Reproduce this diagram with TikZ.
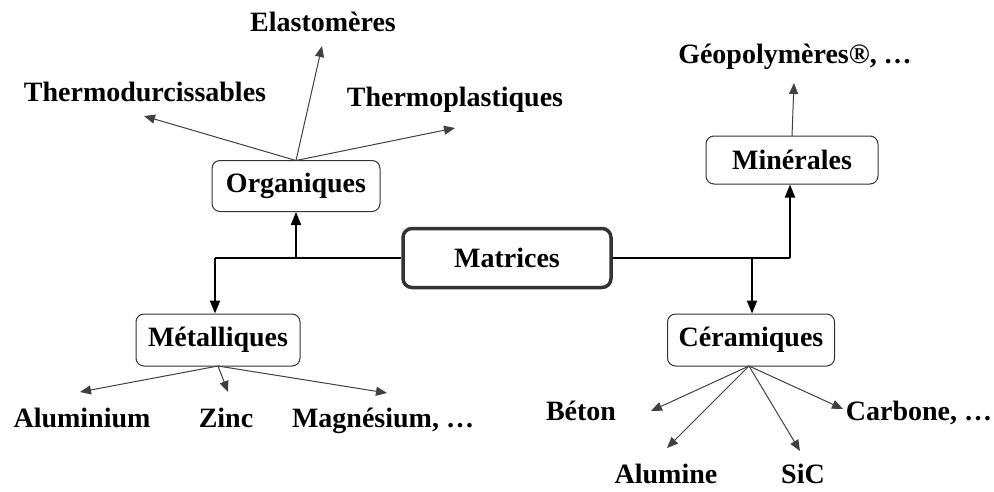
\documentclass[tikz,border=0pt]{standalone}
\usepackage{fontspec}
\setmainfont{Liberation Serif}
\usetikzlibrary{arrows.meta}
\begin{document}
\begin{tikzpicture}[x=1pt,y=-1pt,
  font=\fontsize{28}{32}\selectfont\bfseries,
  box/.style={draw=black!80, rounded corners=8pt, line width=1pt, inner sep=0pt},
  lbl/.style={inner sep=0pt, anchor=center},
  lblb/.style={inner sep=0pt, anchor=base},
  br/.style={draw=black!75, line width=1pt, -{Triangle[length=11pt,width=9pt]}},
  mainln/.style={draw=black, line width=2pt},
  mainar/.style={draw=black, line width=2pt, -{Triangle[length=13pt,width=10pt]}}]
\useasboundingbox (0,0) rectangle (994,491);
% boxes
\node[box, line width=3.5pt, rounded corners=9pt, minimum width=208pt, minimum height=59pt] (mat) at (507,258) {Matrices};
\node[box, minimum width=168pt, minimum height=51pt] (org) at (296,186) {Organiques};
\node[box, minimum width=164pt, minimum height=52pt] (met) at (218,340) {Métalliques};
\node[box, minimum width=172pt, minimum height=48pt] (min) at (792,160) {Minérales};
\node[box, minimum width=167pt, minimum height=52pt] (cer) at (751,340) {Céramiques};
% labels
\node[lbl] (ela) at (323,22) {Elastomères};
\node[lbl] (thd) at (145,92) {Thermodurcissables};
\node[lbl] (thp) at (455,100) {Thermoplastiques};
\node[lbl] (geo) at (795,57) {Géopolymères®, …};
\node[lblb] (alu) at (82,427) {Aluminium};
\node[lblb] (zin) at (226,427) {Zinc};
\node[lblb] (mag) at (383,427) {Magnésium, …};
\node[lblb] (bet) at (581,420) {Béton};
\node[lblb] (car) at (919,420) {Carbone, …};
\node[lbl] (alm) at (666,474) {Alumine};
\node[lbl] (sic) at (803,474) {SiC};
% arrow end points
\coordinate (oTop) at (296,160.5);
\coordinate (eEla) at (322,46);
\coordinate (eThd) at (144,116);
\coordinate (eThp) at (455,128);
\coordinate (mTop) at (792,136);
\coordinate (eGeo) at (794,83);
\coordinate (mBot) at (218,366);
\coordinate (eAlu) at (80,392);
\coordinate (eZin) at (228,392);
\coordinate (eMag) at (387,393);
\coordinate (cBot) at (749,366);
\coordinate (eBet) at (651,411);
\coordinate (eAlm) at (667,448);
\coordinate (eSic) at (800,451);
\coordinate (eCar) at (843,409);
% junctions
\coordinate (jL1) at (296,258);
\coordinate (jL2) at (215,258);
\coordinate (jR1) at (752,258);
\coordinate (jR2) at (790,258);
% main connectors
\draw[mainln] (mat.west) -- (jL2);
\draw[mainar] (jL1) -- (org.south);
\draw[mainar] (jL2) -- (jL2 |- met.north);
\draw[mainln] (mat.east) -- (jR2);
\draw[mainar] (jR2) -- (jR2 |- min.south);
\draw[mainar] (jR1) -- (jR1 |- cer.north);
% branches
\draw[br] (oTop) -- (eEla);
\draw[br] (oTop) -- (eThd);
\draw[br] (oTop) -- (eThp);
\draw[br] (mTop) -- (eGeo);
\draw[br] (mBot) -- (eAlu);
\draw[br] (mBot) -- (eZin);
\draw[br] (mBot) -- (eMag);
\draw[br] (cBot) -- (eBet);
\draw[br] (cBot) -- (eAlm);
\draw[br] (cBot) -- (eSic);
\draw[br] (cBot) -- (eCar);
\end{tikzpicture}
\end{document}
